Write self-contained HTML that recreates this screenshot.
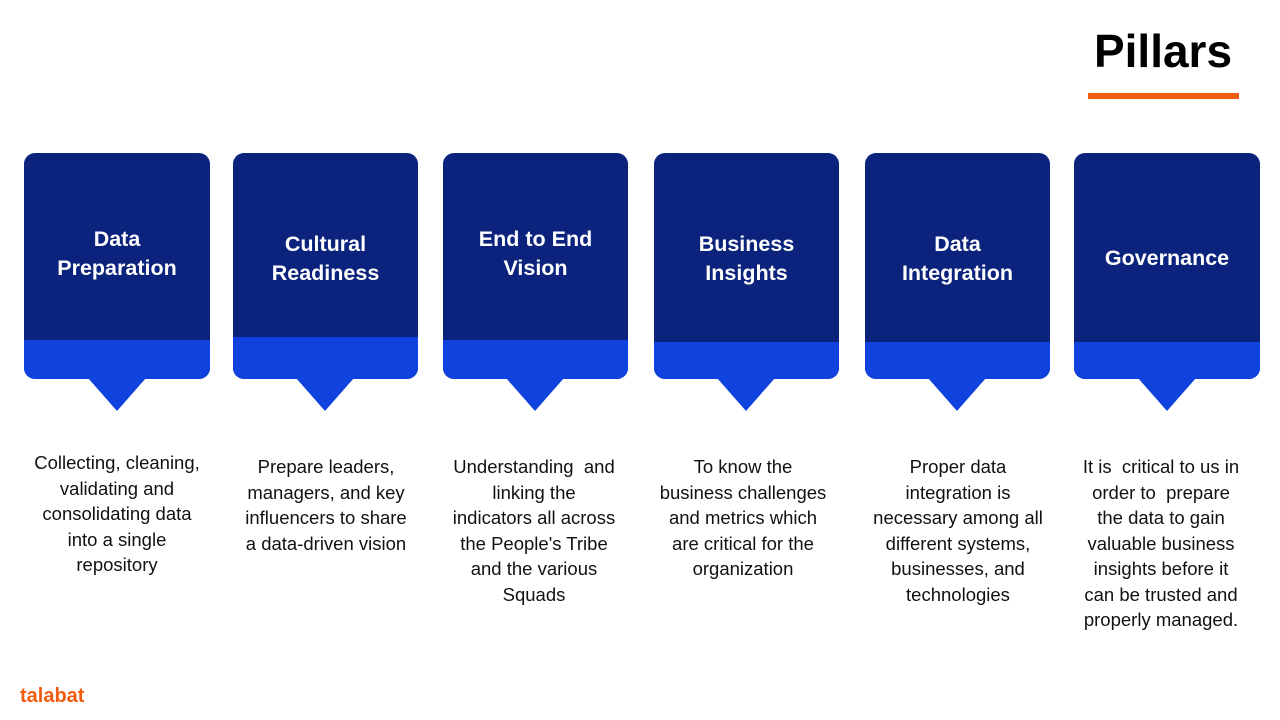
<!DOCTYPE html>
<html><head><meta charset="utf-8"><style>
body{margin:0;width:1280px;height:720px;background:#fff;position:relative;overflow:hidden;font-family:"Liberation Sans",sans-serif}
.t{position:absolute;left:1080px;top:24px;width:166px;text-align:center;font-weight:bold;font-size:46px;color:#000}
.ul{position:absolute;left:1088px;top:93px;width:151px;height:6px;background:#f25c0f}
.box{position:absolute;top:153px;height:226px;border-radius:11px;overflow:hidden;background:#0b237c}
.band{position:absolute;left:0;right:0;bottom:0;background:#1042de}
.tri{position:absolute;top:378px;width:0;height:0;border-left:29px solid transparent;border-right:29px solid transparent;border-top:33px solid #1042de}
.ti{position:absolute;left:0;right:0;text-align:center;color:#fff;font-weight:bold;font-size:21.5px;line-height:29px}
.d{position:absolute;text-align:center;font-size:18.5px;line-height:25.5px;color:#111;white-space:nowrap}
.logo{position:absolute;left:20px;top:685px;color:#f25c0f;font-weight:bold;font-size:20px}
</style></head><body>
<div class="t">Pillars</div><div class="ul"></div>

<div class="box" style="left:24px;width:186px"><div class="band" style="height:39px"></div><div class="ti" style="top:72px">Data<br>Preparation</div></div>
<div class="tri" style="left:88px"></div>
<div class="box" style="left:233px;width:185px"><div class="band" style="height:42px"></div><div class="ti" style="top:77px">Cultural<br>Readiness</div></div>
<div class="tri" style="left:296px"></div>
<div class="box" style="left:443px;width:185px"><div class="band" style="height:39px"></div><div class="ti" style="top:72px">End to End<br>Vision</div></div>
<div class="tri" style="left:506px"></div>
<div class="box" style="left:654px;width:185px"><div class="band" style="height:37px"></div><div class="ti" style="top:77px">Business<br>Insights</div></div>
<div class="tri" style="left:717px"></div>
<div class="box" style="left:865px;width:185px"><div class="band" style="height:37px"></div><div class="ti" style="top:77px">Data<br>Integration</div></div>
<div class="tri" style="left:928px"></div>
<div class="box" style="left:1074px;width:186px"><div class="band" style="height:37px"></div><div class="ti" style="top:91px">Governance</div></div>
<div class="tri" style="left:1138px"></div>

<div class="d" style="left:14px;width:206px;top:450px">Collecting, cleaning,<br>validating and<br>consolidating data<br>into a single<br>repository</div>
<div class="d" style="left:226px;width:200px;top:454px">Prepare leaders,<br>managers, and key<br>influencers to share<br>a data-driven vision</div>
<div class="d" style="left:436px;width:196px;top:454px">Understanding &nbsp;and<br>linking the<br>indicators all across<br>the People's Tribe<br>and the various<br>Squads</div>
<div class="d" style="left:648px;width:190px;top:454px">To know the<br>business challenges<br>and metrics which<br>are critical for the<br>organization</div>
<div class="d" style="left:860px;width:196px;top:454px">Proper data<br>integration is<br>necessary among all<br>different systems,<br>businesses, and<br>technologies</div>
<div class="d" style="left:1062px;width:198px;top:454px">It is &nbsp;critical to us in<br>order to &nbsp;prepare<br>the data to gain<br>valuable business<br>insights before it<br>can be trusted and<br>properly managed.</div>

<div class="logo">talabat</div>
</body></html>
